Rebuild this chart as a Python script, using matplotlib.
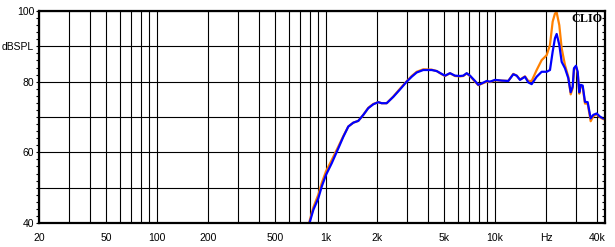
import matplotlib
matplotlib.use("Agg")
import matplotlib.pyplot as plt
from matplotlib.ticker import FixedLocator, NullFormatter

plt.rcParams['font.family'] = ['Liberation Sans', 'DejaVu Sans']

# ---- data ----
freq = [770, 840, 899, 942, 998, 1079, 1180, 1264, 1353, 1449, 1550, 1660, 1776,
        1902, 2036, 2132, 2282, 2498, 2736, 2998, 3209, 3436, 3758, 4214, 4512,
        4829, 5053, 5408, 5788, 6196, 6482, 6790, 7102, 7604, 7952, 8330, 8917,
        9326, 9986, 10940, 11968, 12812, 13418, 14040, 15020, 15714, 16458, 17620,
        18862, 20190, 21120, 21910, 22610, 23138, 23980, 24776, 25912, 27108,
        28008, 28778, 29292, 30098, 30806, 31480, 32088, 32976, 34026, 35296,
        36772, 38100, 39900, 41740, 43660, 45000]

spl_blue = [37.5, 43.7, 47.0, 50.3, 53.6, 56.9, 61.1, 64.4, 67.3, 68.4, 68.9, 70.6, 72.5,
            73.6, 74.2, 73.9, 73.9, 75.7, 77.8, 80.0, 81.4, 82.6, 83.3, 83.3, 83.0,
            82.2, 81.7, 82.4, 81.7, 81.6, 81.7, 82.4, 81.7, 80.2, 79.1, 79.5, 80.2,
            80.0, 80.5, 80.3, 80.2, 82.1, 81.7, 80.5, 81.4, 79.8, 79.3, 81.4,
            82.8, 82.8, 83.3, 88.5, 92.3, 93.5, 90.4, 85.6, 83.8, 81.0,
            77.0, 78.6, 83.8, 84.5, 82.8, 77.0, 79.1, 78.9, 74.3, 74.2,
            69.6, 70.6, 71.0, 70.1, 69.6, 69.5]

spl_orange = [37.8, 44.4, 48.0, 51.3, 54.6, 57.8, 61.6, 64.6, 67.3, 68.4, 68.9, 70.6, 72.6,
              73.7, 74.2, 73.9, 73.9, 75.8, 78.0, 80.1, 81.6, 82.8, 83.5, 83.4, 83.0,
              82.1, 81.6, 82.4, 81.6, 81.5, 81.6, 82.3, 81.6, 80.0, 79.0, 79.4, 80.0,
              79.9, 80.4, 80.3, 80.2, 82.2, 81.7, 80.6, 81.5, 80.2, 80.2, 83.3,
              86.1, 87.5, 90.4, 97.0, 99.3, 99.6, 96.0, 89.4, 84.7, 81.4,
              76.4, 78.2, 83.5, 84.3, 82.5, 76.6, 78.8, 78.5, 73.8, 73.8,
              68.8, 70.2, 70.8, 69.9, 69.4, 69.3]

x_grid = [20, 30, 40, 50, 60, 70, 80, 90, 100, 200, 300, 400, 500, 600, 700, 800, 900,
          1000, 2000, 3000, 4000, 5000, 6000, 7000, 8000, 9000, 10000, 20000, 30000, 40000]
x_labels = {20: '20', 50: '50', 100: '100', 200: '200', 500: '500', 1000: '1k',
            2000: '2k', 5000: '5k', 10000: '10k', 20000: 'Hz', 40000: '40k'}
y_grid = [40, 50, 60, 70, 80, 90, 100]
y_labels = {40: '40', 60: '60', 80: '80', 90: 'dBSPL', 100: '100'}
y_minor = list(range(40, 101, 2))

# ---- figure ----
fig = plt.figure(figsize=(6.15, 2.47), dpi=100)
ax = fig.add_axes([39/615, 24/247, 566/615, 212/247])
ax.set_xscale('log')
ax.set_xlim(20, 44700)
ax.set_ylim(40, 100)

ax.plot(freq, spl_orange, color='#ff8000', lw=1.6, zorder=3, solid_joinstyle='round')
ax.plot(freq, spl_blue, color='#0000ff', lw=1.6, zorder=4, solid_joinstyle='round')

ax.xaxis.set_major_locator(FixedLocator(x_grid))
ax.xaxis.set_minor_locator(FixedLocator([]))
ax.set_xticklabels([x_labels.get(v, '') for v in x_grid])
ax.tick_params(axis='x', which='both', length=0, pad=7, labelsize=7.5)

ax.yaxis.set_major_locator(FixedLocator(y_grid))
ax.yaxis.set_minor_locator(FixedLocator(y_minor))
ax.yaxis.set_minor_formatter(NullFormatter())
ax.set_yticklabels([y_labels.get(v, '') for v in y_grid])
ax.tick_params(axis='y', which='both', direction='out', length=2.3, width=0.8,
               pad=1.2, labelsize=7.5, left=True, right=False)

ax.grid(True, which='major', axis='both', color='black', lw=0.8, zorder=1)
ax.set_axisbelow(True)
for s in ax.spines.values():
    s.set_linewidth(1.6)
    s.set_zorder(5)

# right-side inward ticks
ax2 = ax.twinx()
ax2.set_ylim(40, 100)
ax2.yaxis.set_major_locator(FixedLocator(y_minor))
ax2.yaxis.set_major_formatter(NullFormatter())
ax2.tick_params(axis='y', direction='in', length=2.3, width=0.8, right=True, left=False)
for s in ax2.spines.values():
    s.set_visible(False)

ax.text(1.0, 1.0, 'CLIO', transform=ax.transAxes, ha='right', va='top',
        fontfamily='Liberation Serif', fontweight='bold', fontsize=8.7,
        zorder=6, color='black',
        bbox=dict(facecolor='none', edgecolor='none', pad=0))
ax.texts[-1].set_position((0.995, 0.99))

fig.savefig('out.png', dpi=100)
